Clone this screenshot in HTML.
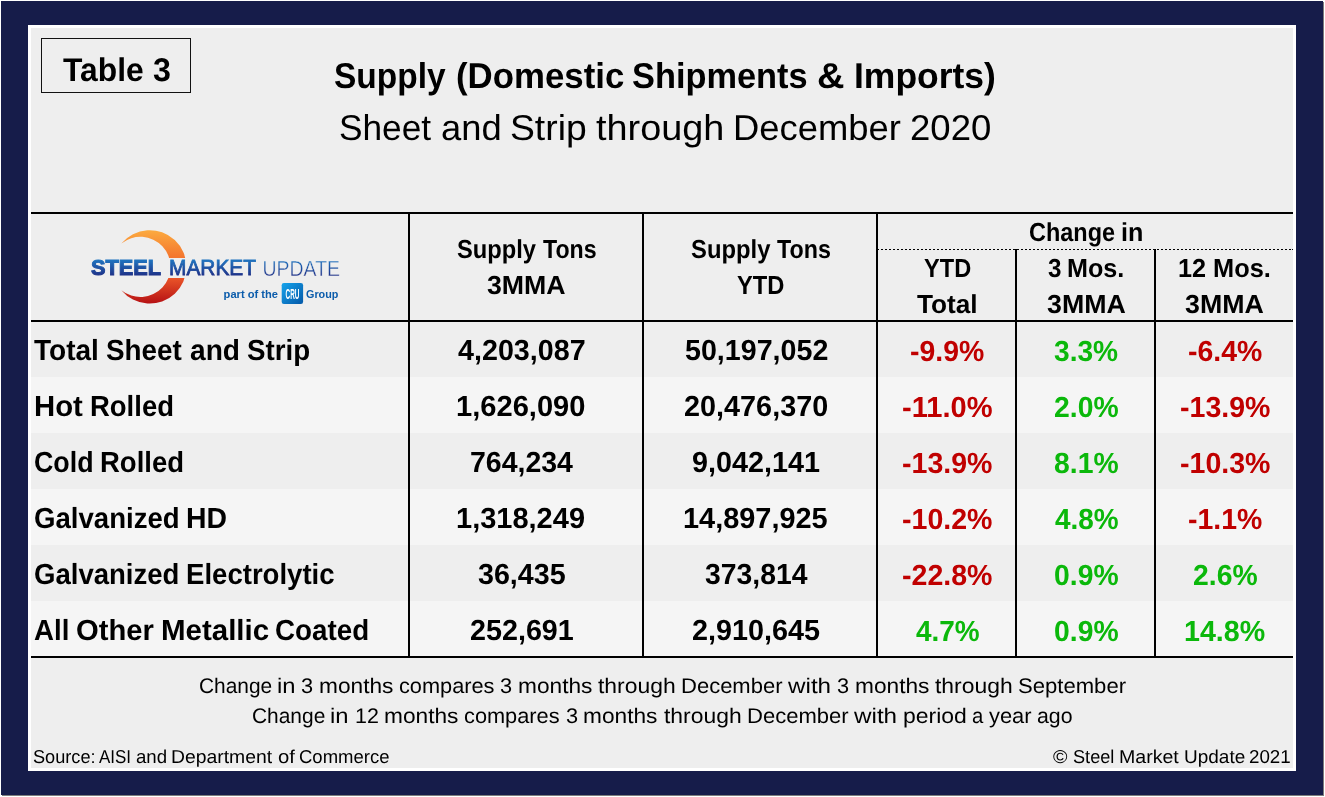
<!DOCTYPE html>
<html lang="en"><head><meta charset="utf-8"><title>Table 3 - Supply (Domestic Shipments &amp; Imports)</title>
<style>
html,body{margin:0;padding:0;background:#fff;}
body{width:1325px;height:797px;position:relative;overflow:hidden;font-family:"Liberation Sans",sans-serif;color:#000;}
.bx{position:absolute;}
.t{position:absolute;white-space:nowrap;line-height:1;transform-origin:0 0;font-weight:400;text-rendering:geometricPrecision;}.t.b{font-weight:700;}
</style></head><body>
<div class="bx" style="left:1px;top:1px;width:1322px;height:794px;background:#161c4a;box-shadow:1px 1px 0 #7d7d7d;"></div>
<div class="bx" style="left:28px;top:25px;width:1268px;height:746px;background:#ffffff;"></div>
<div class="bx" style="left:31px;top:28px;width:1262px;height:740px;background:#eeeeee;"></div>
<div class="bx" style="left:31px;top:377px;width:1262px;height:56px;background:#f5f5f5;"></div>
<div class="bx" style="left:31px;top:489px;width:1262px;height:56px;background:#f5f5f5;"></div>
<div class="bx" style="left:31px;top:601px;width:1262px;height:56px;background:#f5f5f5;"></div>
<div class="bx" style="left:31px;top:212px;width:1262px;height:2px;background:#000;"></div>
<div class="bx" style="left:31px;top:320px;width:1262px;height:2px;background:#000;"></div>
<div class="bx" style="left:31px;top:656px;width:1262px;height:2px;background:#000;"></div>
<div class="bx" style="left:408px;top:213px;width:2px;height:444px;background:#000;"></div>
<div class="bx" style="left:642px;top:213px;width:2px;height:444px;background:#000;"></div>
<div class="bx" style="left:876px;top:213px;width:2px;height:444px;background:#000;"></div>
<div class="bx" style="left:1015px;top:249px;width:2px;height:408px;background:#000;"></div>
<div class="bx" style="left:1154px;top:249px;width:2px;height:408px;background:#000;"></div>
<div class="bx" style="left:878px;top:249px;width:415px;height:1px;background:repeating-linear-gradient(90deg,#000 0 2px,transparent 2px 4px);background-position:-1px 0"></div>
<div class="bx" style="left:41px;top:38px;width:148px;height:53px;border:1px solid #111"></div>
<svg class="bx" style="left:80px;top:220px" width="280" height="95" viewBox="80 220 280 95" font-family="'Liberation Sans', sans-serif">
<defs>
<linearGradient id="gc" gradientUnits="userSpaceOnUse" x1="0" y1="230" x2="0" y2="304">
<stop offset="0" stop-color="#fcab40"/><stop offset=".35" stop-color="#f4782f"/><stop offset=".62" stop-color="#ee5a2a"/><stop offset="1" stop-color="#b51014"/>
</linearGradient>
<linearGradient id="gt" gradientUnits="userSpaceOnUse" x1="0" y1="260" x2="0" y2="276">
<stop offset="0" stop-color="#1f74bf"/><stop offset="1" stop-color="#1e2f86"/>
</linearGradient>
<linearGradient id="gb" x1="0" y1="0" x2="1" y2="1">
<stop offset="0" stop-color="#16a4ec"/><stop offset="1" stop-color="#0458a8"/>
</linearGradient>
<clipPath id="cc"><rect x="80" y="220" width="280" height="38"/><rect x="80" y="278" width="280" height="40"/></clipPath>
</defs>
<path clip-path="url(#cc)" fill="url(#gc)" transform="translate(0.9,0)" d="M120.45 243.6A36.7 36.7 0 1 1 120.45 290.2A30.1 30.1 0 1 0 120.45 243.6z"/>
<text x="91" y="275.4" font-size="21.4" font-weight="700" fill="url(#gt)" stroke="url(#gt)" stroke-width="1" textLength="70" lengthAdjust="spacingAndGlyphs">STEEL</text>
<text x="169" y="275.4" font-size="21.4" font-weight="400" fill="url(#gt)" stroke="url(#gt)" stroke-width=".8" textLength="87" lengthAdjust="spacingAndGlyphs">MARKET</text>
<text x="262.5" y="275.5" font-size="22" font-weight="400" fill="url(#gt)" stroke="#eeeeee" stroke-width=".4" textLength="77.5" lengthAdjust="spacingAndGlyphs">UPDATE</text>
<text x="223.6" y="297.8" font-size="10.6" font-weight="700" fill="#0b5cab" textLength="54.4" lengthAdjust="spacingAndGlyphs">part of the</text>
<rect x="281.7" y="283.1" width="21.4" height="20.9" rx="2.2" fill="url(#gb)"/>
<text x="285.6" y="298.8" font-size="14.4" font-weight="700" fill="#ffffff" textLength="13.9" lengthAdjust="spacingAndGlyphs">CRU</text>
<text x="306" y="297.8" font-size="10.6" font-weight="700" fill="#0b5cab" textLength="32.4" lengthAdjust="spacingAndGlyphs">Group</text>
</svg>

<div class="ph"><span class="t b" style="left:63.3px;top:54px;font-size:32.8px;transform:scaleX(0.9691);">Table</span> <span class="t b" style="left:152.8px;top:54px;font-size:32.8px;transform:scaleX(0.9817);">3</span></div>
<div class="ph"><span class="t b" style="left:334.3px;top:59px;font-size:35.9px;transform:scaleX(0.9326);">Supply</span> <span class="t b" style="left:455.6px;top:59px;font-size:35.9px;transform:scaleX(0.9700);">(Domestic</span> <span class="t b" style="left:632.1px;top:59px;font-size:35.9px;transform:scaleX(0.9573);">Shipments</span> <span class="t b" style="left:817.1px;top:59px;font-size:35.9px;transform:scaleX(1.0604);">&amp;</span> <span class="t b" style="left:853.9px;top:59px;font-size:35.9px;transform:scaleX(0.9882);">Imports)</span></div>
<div class="ph"><span class="t" style="left:339.2px;top:111px;font-size:35.9px;transform:scaleX(0.9820);">Sheet</span> <span class="t" style="left:440.8px;top:111px;font-size:35.9px;transform:scaleX(1.0124);">and</span> <span class="t" style="left:510.2px;top:111px;font-size:35.9px;transform:scaleX(1.0388);">Strip</span> <span class="t" style="left:596.0px;top:111px;font-size:35.9px;transform:scaleX(1.0549);">through</span> <span class="t" style="left:733.2px;top:111px;font-size:35.9px;transform:scaleX(1.0137);">December</span> <span class="t" style="left:909.6px;top:111px;font-size:35.9px;transform:scaleX(1.0177);">2020</span></div>
<div class="ph"><span class="t b" style="left:456.9px;top:236px;font-size:26.0px;transform:scaleX(0.9118);">Supply</span> <span class="t b" style="left:542.7px;top:236px;font-size:26.0px;transform:scaleX(0.8905);">Tons</span></div>
<span class="t b" style="left:487.2px;top:272px;font-size:26.0px;transform:scaleX(1.0271);">3MMA</span>
<div class="ph"><span class="t b" style="left:690.6px;top:236px;font-size:26.0px;transform:scaleX(0.9165);">Supply</span> <span class="t b" style="left:776.8px;top:236px;font-size:26.0px;transform:scaleX(0.8950);">Tons</span></div>
<span class="t b" style="left:736.9px;top:272px;font-size:26.0px;transform:scaleX(0.9114);">YTD</span>
<div class="ph"><span class="t b" style="left:1029.3px;top:219px;font-size:26.0px;transform:scaleX(0.9024);">Change</span> <span class="t b" style="left:1120.9px;top:219px;font-size:26.0px;transform:scaleX(0.9666);">in</span></div>
<span class="t b" style="left:923.7px;top:255px;font-size:26.0px;transform:scaleX(0.9074);">YTD</span>
<span class="t b" style="left:916.8px;top:291px;font-size:26.0px;transform:scaleX(1.0079);">Total</span>
<div class="ph"><span class="t b" style="left:1047.5px;top:255px;font-size:26.0px;transform:scaleX(0.9319);">3</span> <span class="t b" style="left:1067.4px;top:255px;font-size:26.0px;transform:scaleX(0.9673);">Mos.</span></div>
<span class="t b" style="left:1046.5px;top:291px;font-size:26.0px;transform:scaleX(1.0297);">3MMA</span>
<div class="ph"><span class="t b" style="left:1178.4px;top:255px;font-size:26.0px;transform:scaleX(0.9695);">12</span> <span class="t b" style="left:1212.9px;top:255px;font-size:26.0px;transform:scaleX(0.9759);">Mos.</span></div>
<span class="t b" style="left:1185.1px;top:291px;font-size:26.0px;transform:scaleX(1.0297);">3MMA</span>
<div class="ph"><span class="t b" style="left:33.9px;top:337px;font-size:29.1px;transform:scaleX(0.9637);">Total</span> <span class="t b" style="left:106.4px;top:337px;font-size:29.1px;transform:scaleX(0.9569);">Sheet</span> <span class="t b" style="left:190.0px;top:337px;font-size:29.1px;transform:scaleX(0.9665);">and</span> <span class="t b" style="left:247.2px;top:337px;font-size:29.1px;transform:scaleX(0.9531);">Strip</span></div>
<span class="t b" style="left:458.2px;top:337px;font-size:29.1px;transform:scaleX(0.9861);">4,203,087</span>
<span class="t b" style="left:684.5px;top:337px;font-size:29.1px;transform:scaleX(0.9843);">50,197,052</span>
<span class="t b" style="left:909.7px;top:338px;font-size:29.1px;transform:scaleX(0.9773);color:#c00000;">-9.9%</span>
<span class="t b" style="left:1054.4px;top:338px;font-size:29.1px;transform:scaleX(0.9670);color:#0bb80b;">3.3%</span>
<span class="t b" style="left:1187.7px;top:338px;font-size:29.1px;transform:scaleX(0.9773);color:#c00000;">-6.4%</span>
<div class="ph"><span class="t b" style="left:33.9px;top:393px;font-size:29.1px;transform:scaleX(1.0079);">Hot</span> <span class="t b" style="left:89.7px;top:393px;font-size:29.1px;transform:scaleX(0.9442);">Rolled</span></div>
<span class="t b" style="left:456.4px;top:393px;font-size:29.1px;transform:scaleX(1.0003);">1,626,090</span>
<span class="t b" style="left:684.0px;top:393px;font-size:29.1px;transform:scaleX(0.9906);">20,476,370</span>
<span class="t b" style="left:901.6px;top:394px;font-size:29.1px;transform:scaleX(0.9992);color:#c00000;">-11.0%</span>
<span class="t b" style="left:1054.0px;top:394px;font-size:29.1px;transform:scaleX(0.9738);color:#0bb80b;">2.0%</span>
<span class="t b" style="left:1179.6px;top:394px;font-size:29.1px;transform:scaleX(0.9815);color:#c00000;">-13.9%</span>
<div class="ph"><span class="t b" style="left:33.9px;top:449px;font-size:29.1px;transform:scaleX(0.9218);">Cold</span> <span class="t b" style="left:100.4px;top:449px;font-size:29.1px;transform:scaleX(0.9449);">Rolled</span></div>
<span class="t b" style="left:469.5px;top:449px;font-size:29.1px;transform:scaleX(0.9783);">764,234</span>
<span class="t b" style="left:691.9px;top:449px;font-size:29.1px;transform:scaleX(0.9896);">9,042,141</span>
<span class="t b" style="left:901.6px;top:450px;font-size:29.1px;transform:scaleX(0.9815);color:#c00000;">-13.9%</span>
<span class="t b" style="left:1054.0px;top:450px;font-size:29.1px;transform:scaleX(0.9738);color:#0bb80b;">8.1%</span>
<span class="t b" style="left:1179.6px;top:450px;font-size:29.1px;transform:scaleX(0.9815);color:#c00000;">-10.3%</span>
<div class="ph"><span class="t b" style="left:33.7px;top:505px;font-size:29.1px;transform:scaleX(0.9480);">Galvanized</span> <span class="t b" style="left:186.3px;top:505px;font-size:29.1px;transform:scaleX(0.9758);">HD</span></div>
<span class="t b" style="left:456.4px;top:505px;font-size:29.1px;transform:scaleX(0.9967);">1,318,249</span>
<span class="t b" style="left:683.1px;top:505px;font-size:29.1px;transform:scaleX(0.9937);">14,897,925</span>
<span class="t b" style="left:901.6px;top:506px;font-size:29.1px;transform:scaleX(0.9815);color:#c00000;">-10.2%</span>
<span class="t b" style="left:1054.8px;top:506px;font-size:29.1px;transform:scaleX(0.9603);color:#0bb80b;">4.8%</span>
<span class="t b" style="left:1187.7px;top:506px;font-size:29.1px;transform:scaleX(0.9773);color:#c00000;">-1.1%</span>
<div class="ph"><span class="t b" style="left:33.7px;top:561px;font-size:29.1px;transform:scaleX(0.9469);">Galvanized</span> <span class="t b" style="left:186.1px;top:561px;font-size:29.1px;transform:scaleX(0.9475);">Electrolytic</span></div>
<span class="t b" style="left:477.8px;top:561px;font-size:29.1px;transform:scaleX(0.9849);">36,435</span>
<span class="t b" style="left:704.5px;top:561px;font-size:29.1px;transform:scaleX(0.9741);">373,814</span>
<span class="t b" style="left:901.6px;top:562px;font-size:29.1px;transform:scaleX(0.9815);color:#c00000;">-22.8%</span>
<span class="t b" style="left:1054.0px;top:562px;font-size:29.1px;transform:scaleX(0.9738);color:#0bb80b;">0.9%</span>
<span class="t b" style="left:1192.6px;top:562px;font-size:29.1px;transform:scaleX(0.9738);color:#0bb80b;">2.6%</span>
<div class="ph"><span class="t b" style="left:33.5px;top:617px;font-size:29.1px;transform:scaleX(0.9504);">All</span> <span class="t b" style="left:75.9px;top:617px;font-size:29.1px;transform:scaleX(1.0037);">Other</span> <span class="t b" style="left:161.1px;top:617px;font-size:29.1px;transform:scaleX(1.0134);">Metallic</span> <span class="t b" style="left:275.3px;top:617px;font-size:29.1px;transform:scaleX(0.9548);">Coated</span></div>
<span class="t b" style="left:469.5px;top:617px;font-size:29.1px;transform:scaleX(0.9869);">252,691</span>
<span class="t b" style="left:691.9px;top:617px;font-size:29.1px;transform:scaleX(0.9896);">2,910,645</span>
<span class="t b" style="left:915.5px;top:618px;font-size:29.1px;transform:scaleX(0.9603);color:#0bb80b;">4.7%</span>
<span class="t b" style="left:1054.0px;top:618px;font-size:29.1px;transform:scaleX(0.9738);color:#0bb80b;">0.9%</span>
<span class="t b" style="left:1183.8px;top:618px;font-size:29.1px;transform:scaleX(0.9840);color:#0bb80b;">14.8%</span>
<div class="ph"><span class="t" style="left:198.8px;top:676px;font-size:21.2px;transform:scaleX(0.9866);">Change</span> <span class="t" style="left:277.0px;top:676px;font-size:21.2px;transform:scaleX(1.1230);">in</span> <span class="t" style="left:301.1px;top:676px;font-size:21.2px;transform:scaleX(1.0273);">3</span> <span class="t" style="left:318.8px;top:676px;font-size:21.2px;transform:scaleX(1.0709);">months</span> <span class="t" style="left:398.8px;top:676px;font-size:21.2px;transform:scaleX(1.0265);">compares</span> <span class="t" style="left:500.0px;top:676px;font-size:21.2px;transform:scaleX(1.0273);">3</span> <span class="t" style="left:517.7px;top:676px;font-size:21.2px;transform:scaleX(1.0709);">months</span> <span class="t" style="left:598.0px;top:676px;font-size:21.2px;transform:scaleX(1.0807);">through</span> <span class="t" style="left:681.0px;top:676px;font-size:21.2px;transform:scaleX(1.0385);">December</span> <span class="t" style="left:788.4px;top:676px;font-size:21.2px;transform:scaleX(1.1440);">with</span> <span class="t" style="left:837.1px;top:676px;font-size:21.2px;transform:scaleX(1.0273);">3</span> <span class="t" style="left:854.8px;top:676px;font-size:21.2px;transform:scaleX(1.0709);">months</span> <span class="t" style="left:935.1px;top:676px;font-size:21.2px;transform:scaleX(1.0807);">through</span> <span class="t" style="left:1018.0px;top:676px;font-size:21.2px;transform:scaleX(1.0423);">September</span></div>
<div class="ph"><span class="t" style="left:251.9px;top:706px;font-size:21.2px;transform:scaleX(0.9871);">Change</span> <span class="t" style="left:330.2px;top:706px;font-size:21.2px;transform:scaleX(1.1236);">in</span> <span class="t" style="left:354.7px;top:706px;font-size:21.2px;transform:scaleX(1.0118);">12</span> <span class="t" style="left:384.2px;top:706px;font-size:21.2px;transform:scaleX(1.0715);">months</span> <span class="t" style="left:464.3px;top:706px;font-size:21.2px;transform:scaleX(1.0270);">compares</span> <span class="t" style="left:565.5px;top:706px;font-size:21.2px;transform:scaleX(1.0278);">3</span> <span class="t" style="left:583.2px;top:706px;font-size:21.2px;transform:scaleX(1.0715);">months</span> <span class="t" style="left:663.5px;top:706px;font-size:21.2px;transform:scaleX(1.0813);">through</span> <span class="t" style="left:746.6px;top:706px;font-size:21.2px;transform:scaleX(1.0390);">December</span> <span class="t" style="left:854.1px;top:706px;font-size:21.2px;transform:scaleX(1.1438);">with</span> <span class="t" style="left:902.7px;top:706px;font-size:21.2px;transform:scaleX(1.0838);">period</span> <span class="t" style="left:971.6px;top:706px;font-size:21.2px;transform:scaleX(0.9567);">a</span> <span class="t" style="left:989.1px;top:706px;font-size:21.2px;transform:scaleX(1.0325);">year</span> <span class="t" style="left:1037.3px;top:706px;font-size:21.2px;transform:scaleX(1.0060);">ago</span></div>
<div class="ph"><span class="t" style="left:32.7px;top:748px;font-size:18.6px;transform:scaleX(0.9764);">Source:</span> <span class="t" style="left:99.3px;top:748px;font-size:18.6px;transform:scaleX(0.9120);">AISI</span> <span class="t" style="left:135.8px;top:748px;font-size:18.6px;transform:scaleX(1.0022);">and</span> <span class="t" style="left:171.4px;top:748px;font-size:18.6px;transform:scaleX(1.0411);">Department</span> <span class="t" style="left:277.5px;top:748px;font-size:18.6px;transform:scaleX(1.0904);">of</span> <span class="t" style="left:298.8px;top:748px;font-size:18.6px;transform:scaleX(0.9954);">Commerce</span></div>
<div class="ph"><span class="t" style="left:1052.5px;top:748px;font-size:18.6px;transform:scaleX(1.0548);">©</span> <span class="t" style="left:1072.7px;top:748px;font-size:18.6px;transform:scaleX(0.9770);">Steel</span> <span class="t" style="left:1118.8px;top:748px;font-size:18.6px;transform:scaleX(1.0521);">Market</span> <span class="t" style="left:1183.6px;top:748px;font-size:18.6px;transform:scaleX(1.0209);">Update</span> <span class="t" style="left:1249.0px;top:748px;font-size:18.6px;transform:scaleX(1.0093);">2021</span></div>
</body></html>
